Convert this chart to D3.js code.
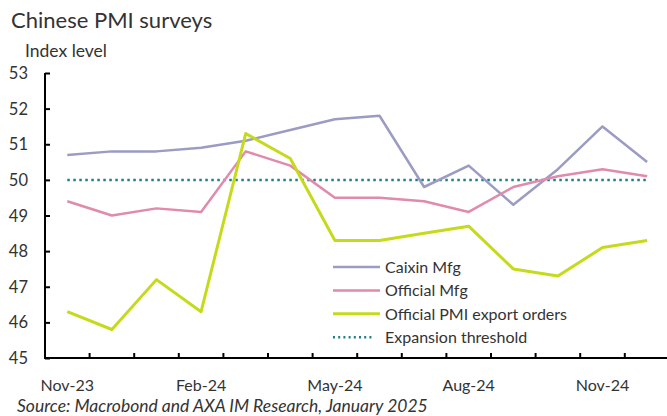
<!DOCTYPE html>
<html>
<head>
<meta charset="utf-8">
<script src="https://cdn.jsdelivr.net/npm/d3@7"></script>
<style>
  body { margin: 0; background: #fff; }
  svg { font-family: Lato, "Open Sans", sans-serif; }
</style>
</head>
<body>
<svg id="chart"></svg>
<script>
// Set up the SVG dimensions
const width = 667;
const height = 416;

const CAIXIN_COLOR = "#9b9bc4";
const OFFICIAL_COLOR = "#e08aac";
const EXPORT_COLOR = "#c6da1c";
const THRESHOLD_COLOR = "#1f7f86";
const TEXT_COLOR = "#333";

// Chart data
const months = ["Nov-23", "Dec-23", "Jan-24", "Feb-24", "Mar-24", "Apr-24", "May-24",
  "Jun-24", "Jul-24", "Aug-24", "Sep-24", "Oct-24", "Nov-24", "Dec-24"];
const caixinMfg = [50.7, 50.8, 50.8, 50.9, 51.1, 51.4, 51.7, 51.8, 49.8, 50.4, 49.3, 50.3, 51.5, 50.5];
const officialMfg = [49.4, 49.0, 49.2, 49.1, 50.8, 50.4, 49.5, 49.5, 49.4, 49.1, 49.8, 50.1, 50.3, 50.1];
const exportOrders = [46.3, 45.8, 47.2, 46.3, 51.3, 50.6, 48.3, 48.3, 48.5, 48.7, 47.5, 47.3, 48.1, 48.3];
const threshold = 50;
const yTicks = [45, 46, 47, 48, 49, 50, 51, 52, 53];
const xLabels = ["Nov-23", "Feb-24", "May-24", "Aug-24", "Nov-24"];

const margin = { left: 45, right: 0, top: 73, bottom: 58 };

const svg = d3.select("#chart")
  .attr("width", width)
  .attr("height", height);

// Scales
const x = d3.scaleBand()
  .domain(months)
  .range([margin.left, margin.left + 44.6 * months.length]);

const y = d3.scaleLinear()
  .domain([45, 53])
  .range([358, margin.top]);

const cx = d => x(d) + x.bandwidth() / 2;

// Title and axis caption
svg.append("text")
  .attr("x", 11).attr("y", 28)
  .attr("font-size", 22)
  .attr("fill", TEXT_COLOR)
  .text("Chinese PMI surveys");

svg.append("text")
  .attr("x", 25).attr("y", 57)
  .attr("font-size", 17.5)
  .attr("fill", TEXT_COLOR)
  .text("Index level");

// Y axis, ticks pointing inwards
const yAxis = svg.append("g")
  .attr("transform", `translate(${margin.left},0)`)
  .call(d3.axisRight(y).tickValues(yTicks).tickSize(5).tickFormat(""));
yAxis.select(".domain").attr("d", `M0,${y(53)}V${y(45)}`);
yAxis.selectAll("line, path").attr("stroke", "#000").attr("stroke-width", 2);

svg.selectAll(".ylab")
  .data(yTicks)
  .enter()
  .append("text")
  .attr("class", "ylab")
  .attr("x", 28)
  .attr("y", d => y(d) + 6)
  .attr("text-anchor", "end")
  .attr("font-size", 16.5)
  .attr("fill", TEXT_COLOR)
  .text(d => d);

// X axis, ticks at band edges pointing up
const xEdges = months.map(m => x(m)).concat([x(months[months.length - 1]) + x.bandwidth()]);
const xAxis = svg.append("g");
xAxis.append("line")
  .attr("x1", margin.left - 1).attr("x2", width)
  .attr("y1", y(45)).attr("y2", y(45))
  .attr("stroke", "#000").attr("stroke-width", 2);
xAxis.selectAll(".xtick")
  .data(xEdges.slice(1))
  .enter()
  .append("line")
  .attr("x1", d => d).attr("x2", d => d)
  .attr("y1", y(45)).attr("y2", y(45) - 5)
  .attr("stroke", "#000").attr("stroke-width", 2);

svg.selectAll(".xlab")
  .data(xLabels)
  .enter()
  .append("text")
  .attr("x", d => cx(d))
  .attr("y", 391)
  .attr("text-anchor", "middle")
  .attr("font-size", 16)
  .attr("fill", TEXT_COLOR)
  .text(d => d);

// Expansion threshold
svg.append("line")
  .attr("x1", cx(months[0])).attr("x2", cx(months[months.length - 1]))
  .attr("y1", y(threshold)).attr("y2", y(threshold))
  .attr("stroke", THRESHOLD_COLOR)
  .attr("stroke-width", 2.5)
  .attr("stroke-dasharray", "2.5,3.5");

// Series lines
const line = d3.line()
  .x((d, i) => cx(months[i]))
  .y(d => y(d));

const series = [
  { name: "Caixin Mfg", values: caixinMfg, color: CAIXIN_COLOR, w: 2.5 },
  { name: "Official Mfg", values: officialMfg, color: OFFICIAL_COLOR, w: 2.5 },
  { name: "Official PMI export orders", values: exportOrders, color: EXPORT_COLOR, w: 3 }
];

series.forEach(s => {
  svg.append("path")
    .attr("d", line(s.values))
    .attr("fill", "none")
    .attr("stroke", s.color)
    .attr("stroke-width", s.w)
    .attr("stroke-linejoin", "round");
});

// Legend
const legendItems = series.concat([{ name: "Expansion threshold", color: THRESHOLD_COLOR, w: 2.5, dotted: true }]);
const legend = svg.append("g").attr("transform", "translate(333,267)");
legendItems.forEach((s, i) => {
  const g = legend.append("g").attr("transform", `translate(0,${i * 23.4})`);
  g.append("line")
    .attr("x1", 0).attr("x2", s.dotted ? 40 : 47)
    .attr("stroke", s.color)
    .attr("stroke-width", s.w)
    .attr("stroke-dasharray", s.dotted ? "2,3.2" : null);
  g.append("text")
    .attr("x", 52).attr("y", 6)
    .attr("font-size", 16)
    .attr("fill", TEXT_COLOR)
    .text(s.name);
});

// Source note
svg.append("text")
  .attr("x", 17).attr("y", 412)
  .attr("font-size", 17.5)
  .attr("font-style", "italic")
  .attr("fill", TEXT_COLOR)
  .text("Source: Macrobond and AXA IM Research, January 2025");
</script>
</body>
</html>
